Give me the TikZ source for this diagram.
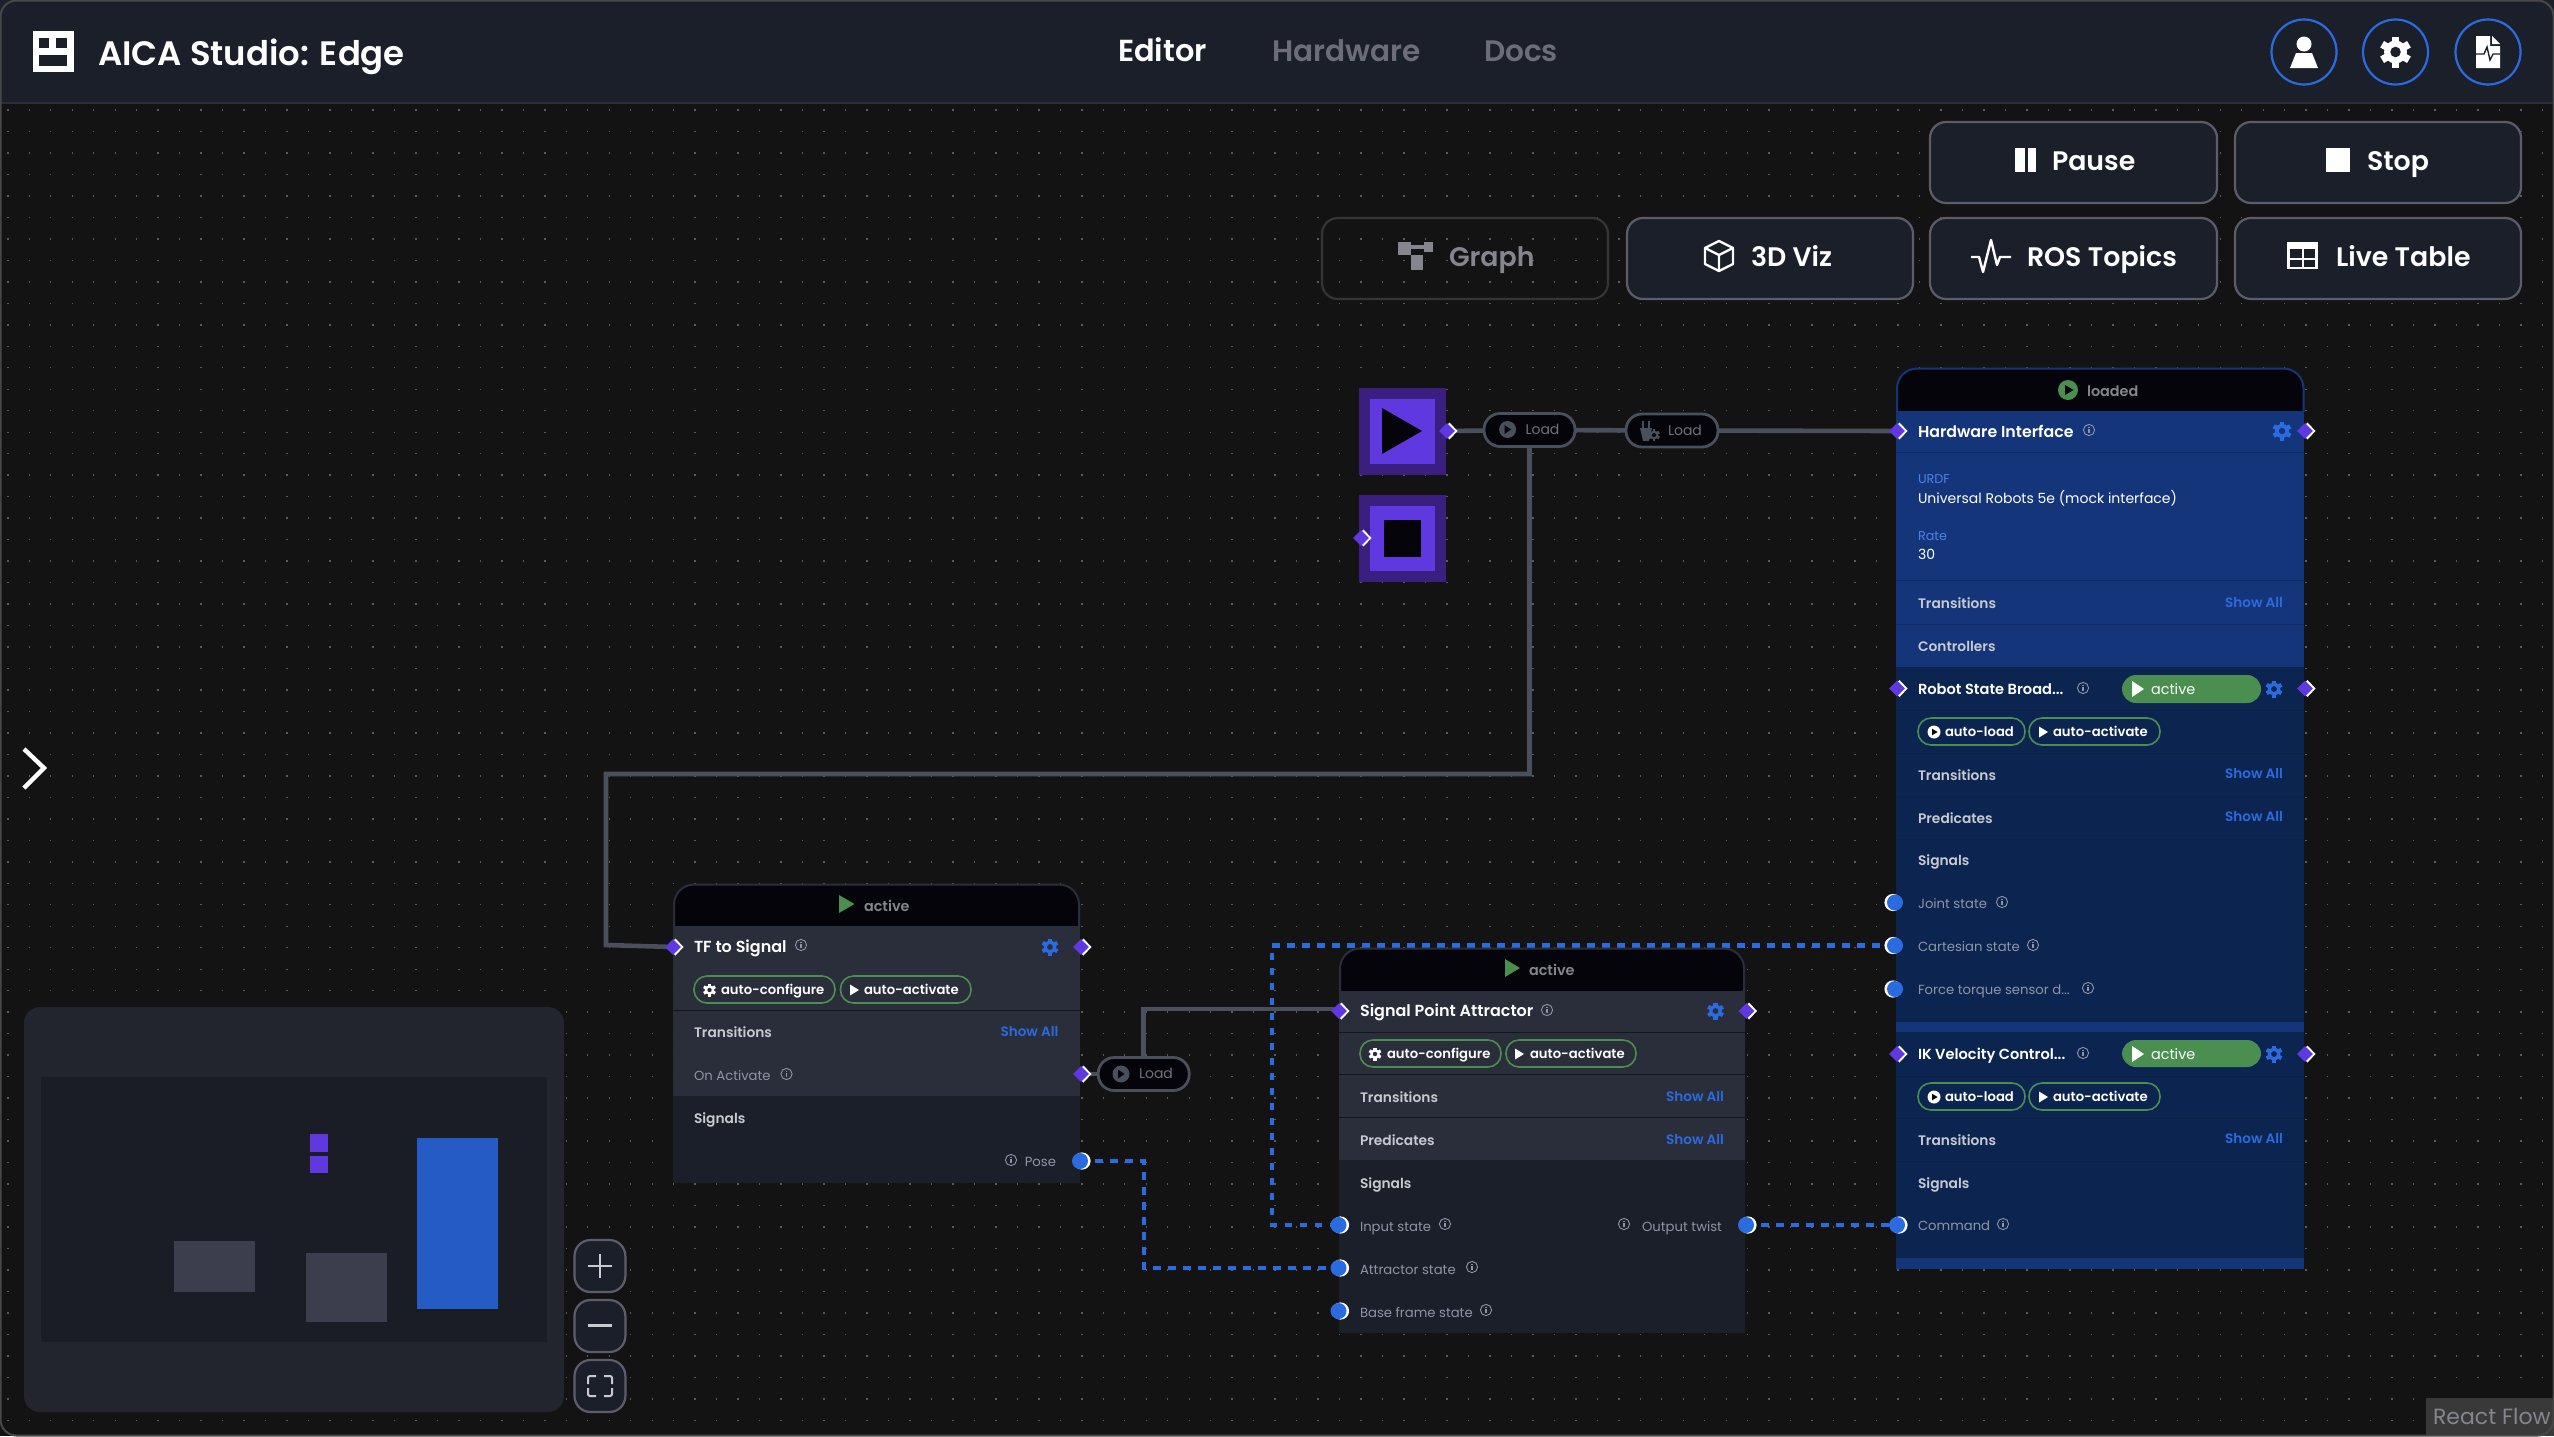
\documentclass[tikz,border=0pt]{standalone}
\usepackage{fontspec}
\setmainfont{Poppins}[BoldFont={Poppins SemiBold}]
\usetikzlibrary{shapes.geometric}
\pgfdeclarelayer{dots}
\pgfdeclarelayer{conn}
\pgfsetlayers{dots,conn,main}
\definecolor{bg}{HTML}{131313}
\definecolor{bar}{HTML}{1B1F2A}
\definecolor{frameg}{HTML}{474747}
\definecolor{dotc}{HTML}{5A5A5A}
\definecolor{btnline}{HTML}{5C5C6A}
\definecolor{linkb}{HTML}{2B6BE0}
\definecolor{wire}{HTML}{4A4F5C}
\definecolor{purp}{HTML}{6038E0}
\definecolor{purpd}{HTML}{3A1F80}
\definecolor{hwl}{HTML}{15357A}
\definecolor{hwd}{HTML}{0B2550}
\definecolor{greyl}{HTML}{2A2D3A}
\definecolor{greyd}{HTML}{1B1F2A}
\definecolor{grn}{HTML}{4A8F50}
\definecolor{blk}{HTML}{04040A}
\definecolor{sect}{HTML}{C8CAD0}
\definecolor{mut}{HTML}{8F95A5}
\definecolor{hdrtxt}{HTML}{85858E}
\definecolor{mapouter}{HTML}{22252E}
\definecolor{mapinner}{HTML}{1A1D26}
\definecolor{mapgrey}{HTML}{3C3E4D}
\definecolor{mapblue}{HTML}{245BC4}
\newcommand\fs[1]{\fontsize{#1}{#1}\selectfont}
\tikzset{
  txt/.style={inner sep=0pt,outer sep=0pt,anchor=mid west,text=white},
  txtr/.style={txt,anchor=mid east},
  titlef/.style={font=\fs{16.95}\bfseries},
  navf/.style={font=\fs{14.8}\bfseries},
  btnf/.style={font=\fs{13.4}\bfseries},
  namef/.style={yshift=-0.4pt,font=\fs{7.9}\bfseries},
  sectf/.style={txt,yshift=-0.4pt,font=\fs{6.9}\bfseries,text=sect},
  showf/.style={txtr,yshift=-0.4pt,font=\fs{6.8}\bfseries,text=linkb},
  sigf/.style={txt,yshift=-0.4pt,font=\fs{6.6},text=mut},
  sigfr/.style={sigf,anchor=mid east},
  chipf/.style={txt,yshift=-0.4pt,font=\fs{6.6}\bfseries},
  hdrf/.style={txt,yshift=-0.4pt,font=\fs{7.2}\bfseries,text=hdrtxt},
  loadf/.style={txt,font=\fs{7},text=hdrtxt!85!black},
  btnbox/.style={draw=btnline,line width=1.1pt,fill=bar,rounded corners=8pt},
  ctlbox/.style={draw=btnline,line width=1.1pt,fill=bar,rounded corners=8pt},
  loadpill/.style={rectangle,draw=wire,line width=1.4pt,fill=blk,rounded corners=8pt,minimum height=16.5pt,inner sep=0pt},
  chipbox/.style={draw=grn,line width=0.8pt,rounded corners=6.5pt},
  hdiamond/.style={diamond,fill=purp,inner sep=0pt,minimum size=8pt},
  hcircle/.style={circle,fill=linkb,inner sep=0pt,minimum size=8pt},
  wireline/.style={draw=wire,line width=2.3pt},
  dashline/.style={draw=linkb,line width=2.2pt,dash pattern=on 3.9pt off 3.6pt},
  circbtn/.style={draw=linkb,line width=1.1pt,circle,inner sep=0pt,minimum size=32.5pt},
  dotline/.style={draw=dotc,line width=0.7pt,dash pattern=on 0.7pt off 10.04pt},
  iconl/.style={draw=white,line width=1.2pt},
}
% x y radius colour hole
\newcommand\gearico[5]{%
  \fill[#4] (#1,#2) circle[radius={#3*0.74}];
  \foreach \aa in {0,60,120}{\fill[#4,shift={(#1,#2)},rotate=\aa] ({-#3*0.24},{-#3}) rectangle ({#3*0.24},{#3});}
  \fill[#5] (#1,#2) circle[radius={#3*0.34}];
}
% x y colour
\newcommand\infoico[3]{%
  \draw[#3,line width=0.45pt] (#1,#2) circle[radius=5.6];
  \fill[#3] ({#1-0.8},{#2-1}) rectangle ({#1+0.8},{#2+3.4});
  \fill[#3] ({#1-0.8},{#2-3.4}) rectangle ({#1+0.8},{#2-2});
}
% name x y
\newcommand\hdia[3]{%
  \fill[white] ({#2+10.5},#3) -- ({#2+2.5},{#3-8.5}) -- ({#2-6},#3) -- ({#2+2.5},{#3+8.5}) -- cycle;
  \node[hdiamond] (#1) at (#2,#3) {};
}
% name x y shift
\newcommand\hcir[4]{%
  \fill[white] ({#2+#4},#3) circle[radius=8.6];
  \node[hcircle] (#1) at (#2,#3) {};
}
% x y colour radius : play in a disc
\newcommand\playdisc[4]{%
  \fill[#3] (#1,#2) circle[radius=#4];
  \fill[blk] ({#1-#4*0.3},{#2-#4*0.5}) -- ({#1+#4*0.55},#2) -- ({#1-#4*0.3},{#2+#4*0.5}) -- cycle;
}
% x y halfh width colour
\newcommand\tri[5]{\fill[#5] (#1,{#2-#3}) -- ({#1+#4},#2) -- (#1,{#2+#3}) -- cycle;}
\begin{document}
\begin{tikzpicture}[x=0.5pt,y=-0.5pt]
\useasboundingbox (0,0) rectangle (2554,1436);
% dotted background
\begin{pgfonlayer}{dots}
\fill[bg] (0,0) rectangle (2554,1436);
\foreach \r in {0,...,61}{\draw[dotline] (7.1,{110+21.48*\r}) -- (2554,{110+21.48*\r});}
\end{pgfonlayer}
% top bar
\fill[bar] (0,0) rectangle (2554,102);
\fill[greyl] (0,102) rectangle (2554,104);
% logo
\fill[white] (33,31) rectangle (73.5,72);
\fill[bar] (39,38) rectangle (49,48);
\fill[bar] (55.5,38) rectangle (67,48);
\fill[bar] (39,55) rectangle (67,66);
\node[txt,titlef] (title) at (98,60.5) {AICA Studio: Edge};
\node[txt,navf,font=\fs{15.2}\bfseries] (navEditor) at (1118,56) {Editor};
\node[txt,navf,text=hdrtxt!120!white] (navHardware) at (1272,56) {Hardware};
\node[txt,navf,text=hdrtxt!120!white] (navDocs) at (1484,56) {Docs};
% round buttons
\node[circbtn] (cUser) at (2304,52) {};
\node[circbtn] (cGear) at (2395.5,52) {};
\node[circbtn] (cDoc) at (2488,52) {};
\fill[white] (2304,44) circle[radius=7.5];
\fill[white] (2296,53) -- (2312,53) -- (2318,68) -- (2290,68) -- cycle;
\gearico{2395.5}{52}{15.5}{white}{bar}
\fill[white] (2476,36) -- (2490,36) -- (2490,46) -- (2500,46) -- (2500,68) -- (2476,68) -- cycle;
\fill[white] (2492,36) -- (2500,44) -- (2492,44) -- cycle;
\draw[bar,line width=0.7pt] (2476,54) -- (2484,54) -- (2487,47) -- (2490,60) -- (2493,54) -- (2500,54);
% buttons
\draw[btnbox] (1930,122) rectangle (2217,203);
\draw[btnbox] (2235,122) rectangle (2521,203);
\draw[btnbox,draw=frameg!75!black,fill=none] (1322,218) rectangle (1608,299);
\draw[btnbox] (1627,218) rectangle (1913,299);
\draw[btnbox] (1930,218) rectangle (2217,299);
\draw[btnbox] (2235,218) rectangle (2521,299);
\fill[white] (2015,148) rectangle (2025,172);
\fill[white] (2028,148) rectangle (2036,172);
\node[txt,btnf] (bPause) at (2052,165) {Pause};
\fill[white] (2326,148) rectangle (2350,172);
\node[txt,btnf] (bStop) at (2367,165) {Stop};
\fill[hdrtxt] (1398,242) rectangle (1411,255);
\fill[hdrtxt] (1411,245) rectangle (1433,249);
\fill[hdrtxt] (1424,242) rectangle (1433,252);
\fill[hdrtxt] (1411,255) rectangle (1423,270);
\node[txt,btnf,text=hdrtxt] (bGraph) at (1449,261) {Graph};
\draw[iconl,line join=round] (1719,241) -- (1733,248) -- (1733,264) -- (1719,271) -- (1705,264) -- (1705,248) -- cycle;
\draw[iconl,line join=round] (1705,248) -- (1719,255) -- (1733,248) (1719,255) -- (1719,271);
\node[txt,btnf] (bViz) at (1751,261) {3D Viz};
\draw[iconl,line join=round] (1971,257) -- (1979,257) -- (1983,272) -- (1991,240) -- (1997,265) -- (2000,257) -- (2011,257);
\node[txt,btnf] (bRos) at (2027,261) {ROS Topics};
\fill[white] (2287,242) rectangle (2318,269);
\fill[bar] (2290,249) rectangle (2301.5,257.5);
\fill[bar] (2303.5,249) rectangle (2315,257.5);
\fill[bar] (2290,259.5) rectangle (2301.5,266.5);
\fill[bar] (2303.5,259.5) rectangle (2315,266.5);
\node[txt,btnf] (bLive) at (2336,261) {Live Table};
% chevron
\draw[white,line width=2.2pt,line join=miter] (24,749) -- (44,768) -- (24,788);
% play and stop blocks
\fill[purpd] (1359,388) rectangle (1446,475);
\fill[purp] (1370,399) rectangle (1435,464);
\fill[blk] (1382,408) -- (1422,431) -- (1382,454) -- cycle;
\fill[purpd] (1359,495) rectangle (1446,582);
\fill[purp] (1370,506) rectangle (1435,571);
\fill[blk] (1384,520) rectangle (1421,557);
\hdia{hPlay}{1447}{431}
\hdia{hStop}{1361}{538}
% load pills
\node[loadpill,minimum width=45.5pt] (pillA) at (1529.5,430) {};
\fill[wire] (1507.6,429.5) circle[radius=8.5];
\tri{1504.5}{429.5}{4.5}{6.5}{blk}
\node[loadf] (tA) at (1525.5,429.5) {Load};
\node[loadpill,minimum width=46pt] (pillB) at (1672,430.5) {};
\fill[wire] (1642,421) rectangle (1644,428);
\fill[wire] (1648,421) rectangle (1650,428);
\fill[wire] (1640,428) -- (1652,428) -- (1649,441) -- (1643,441) -- cycle;
\gearico{1654}{435}{6}{wire}{blk}
\node[loadf] (tB) at (1668,430.5) {Load};
\node[loadpill,minimum width=45.5pt] (pillC) at (1143.7,1074) {};
\fill[wire] (1121,1074) circle[radius=8.5];
\tri{1118}{1074}{4.5}{6.5}{blk}
\node[loadf] (tC) at (1139,1073.5) {Load};
% ---------- hardware interface ----------
\draw[draw=hwl,fill=blk,line width=1pt,rounded corners=10pt] (1897,412) -- (1897,368.5) -- (2303.5,368.5) -- (2303.5,412);
\fill[hwl] (1896,411) rectangle (2304,1269);
\fill[hwd] (1896,667) rectangle (2304,1022);
\fill[hwd] (1896,1032) rectangle (2304,1258);
\foreach \yy in {452,580,624}{\fill[hwd!75!hwl] (1896,\yy) rectangle (2304,{\yy+1.4});}
\foreach \yy in {710,753,797,839,1076,1118,1161}{\fill[hwd!88!black] (1896,\yy) rectangle (2304,{\yy+1});}
\playdisc{2068}{390}{grn}{10}
\node[hdrf] (hwState) at (2087,390) {loaded};
\node[txt,namef] (hwName) at (1918,431) {Hardware Interface};
\infoico{2089}{430}{mut}
\gearico{2282}{431}{9.5}{linkb}{hwl}
\node[txt,yshift=-0.4pt,font=\fs{6.4},text=linkb!85!white] (hwUrdf) at (1918,477) {URDF};
\node[txt,yshift=-0.4pt,font=\fs{7}] (hwUrdfV) at (1918,497) {Universal Robots 5e (mock interface)};
\node[txt,yshift=-0.4pt,font=\fs{6.4},text=linkb!85!white] (hwRate) at (1918,534) {Rate};
\node[txt,yshift=-0.4pt,font=\fs{7}] (hwRateV) at (1918,553) {30};
\node[sectf] (hwTrans) at (1918,602) {Transitions};
\node[showf] (hwShow) at (2283,601) {Show All};
\node[sectf] (hwCtrl) at (1918,645) {Controllers};
% robot state
\node[txt,namef,font=\fs{7.3}\bfseries] (rsName) at (1918,688) {Robot State Broad...};
\infoico{2083}{688}{mut}
\draw[fill=grn,draw=none,rounded corners=7pt] (2122,675) rectangle (2261,703);
\tri{2132}{689}{8}{12}{white}
\node[txt,yshift=-0.4pt,font=\fs{7.2}] (rsAct) at (2151,688) {active};
\gearico{2274}{689}{8.5}{linkb}{hwd}
\draw[chipbox] (1918,718) rectangle (2025,745);
\playdisc{1934}{732}{white}{6.5}
\node[chipf] (rsC1) at (1945,730.5) {auto-load};
\draw[chipbox] (2029,718) rectangle (2160,745);
\tri{2039}{732}{5.5}{9}{white}
\node[chipf] (rsC2) at (2053,730.5) {auto-activate};
\node[sectf] (rsTrans) at (1918,774) {Transitions};
\node[showf] (rsShow1) at (2283,772) {Show All};
\node[sectf] (rsPred) at (1918,817) {Predicates};
\node[showf] (rsShow2) at (2283,815) {Show All};
\node[sectf] (rsSig) at (1918,859) {Signals};
\node[sigf] (rsJ) at (1918,902) {Joint state};
\infoico{2002}{902}{mut}
\node[sigf] (rsCart) at (1918,945) {Cartesian state};
\infoico{2033}{945}{mut}
\node[sigf] (rsF) at (1918,988) {Force torque sensor d...};
\infoico{2088}{988}{mut}
% ik
\node[txt,namef,font=\fs{7.3}\bfseries] (ikName) at (1918,1053) {IK Velocity Control...};
\infoico{2083}{1053}{mut}
\draw[fill=grn,draw=none,rounded corners=7pt] (2122,1040) rectangle (2261,1067);
\tri{2132}{1054}{8}{12}{white}
\node[txt,yshift=-0.4pt,font=\fs{7.2}] (ikAct) at (2151,1053) {active};
\gearico{2274}{1054}{8.5}{linkb}{hwd}
\draw[chipbox] (1918,1083) rectangle (2025,1110);
\playdisc{1934}{1097}{white}{6.5}
\node[chipf] (ikC1) at (1945,1095.5) {auto-load};
\draw[chipbox] (2029,1083) rectangle (2160,1110);
\tri{2039}{1097}{5.5}{9}{white}
\node[chipf] (ikC2) at (2053,1095.5) {auto-activate};
\node[sectf] (ikTrans) at (1918,1139) {Transitions};
\node[showf] (ikShow) at (2283,1137) {Show All};
\node[sectf] (ikSig) at (1918,1182) {Signals};
\node[sigf] (ikCmd) at (1918,1224) {Command};
\infoico{2003}{1224}{mut}
\hdia{hHwIn}{1897}{431}
\hdia{hHwOut}{2305}{431}
\hdia{hRsIn}{1897}{688.5}
\hdia{hRsOut}{2305}{688.5}
\hcir{sJoint}{1895}{902.5}{-2}
\hcir{sCart}{1895}{945.5}{-2}
\hcir{sForce}{1895}{989}{-2}
\hdia{hIkIn}{1897}{1054}
\hdia{hIkOut}{2305}{1054}
\hcir{sCmd}{1897}{1225}{2}
% ---------- TF to signal ----------
\draw[draw=greyl,fill=blk,line width=1pt,rounded corners=10pt] (674,927) -- (674,884.5) -- (1079,884.5) -- (1079,927);
\fill[greyl] (672.5,926) rectangle (1080,1096);
\fill[greyd] (672.5,1096) rectangle (1080,1183);
\fill[greyd!70!black] (672.5,1010) rectangle (1080,1011);
\tri{839}{904}{9}{15.5}{grn}
\node[hdrf] (tfState) at (864,905) {active};
\node[txt,namef,font=\fs{8}\bfseries] (tfName) at (694,946) {TF to Signal};
\infoico{801}{945}{mut}
\gearico{1050}{947}{8.5}{linkb}{greyl}
\draw[chipbox] (694,976) rectangle (835,1003);
\gearico{709.5}{990}{6.5}{white}{greyl}
\node[chipf] (tfC1) at (721,988.5) {auto-configure};
\draw[chipbox] (840.5,976) rectangle (971,1003);
\tri{850}{990}{5.5}{9}{white}
\node[chipf] (tfC2) at (864,988.5) {auto-activate};
\node[sectf] (tfTrans) at (694,1031) {Transitions};
\node[showf] (tfShow) at (1058.5,1030) {Show All};
\node[sigf] (tfOn) at (694,1074) {On Activate};
\infoico{786.5}{1074}{mut}
\node[sectf] (tfSig) at (694,1117) {Signals};
\node[sigfr] (tfPose) at (1056,1160) {Pose};
\infoico{1011}{1160}{mut}
\hdia{hTfIn}{673}{947}
\hdia{hTfOut}{1081}{947}
\hdia{hTfAct}{1081}{1074}
\hcir{sPose}{1080}{1161}{2}
% ---------- signal point attractor ----------
\draw[draw=greyl,fill=blk,line width=1pt,rounded corners=10pt] (1340,992) -- (1340,948.5) -- (1744,948.5) -- (1744,992);
\fill[greyl] (1338.5,991) rectangle (1745,1160);
\fill[greyd] (1338.5,1160) rectangle (1745,1333);
\foreach \yy in {1032,1074,1117}{\fill[greyd!70!black] (1338.5,\yy) rectangle (1745,{\yy+1});}
\tri{1505}{968}{9}{15}{grn}
\node[hdrf] (spaState) at (1529,969) {active};
\node[txt,namef,font=\fs{8}\bfseries] (spaName) at (1360,1010) {Signal Point Attractor};
\infoico{1547}{1010}{mut}
\gearico{1715.5}{1011}{8.5}{linkb}{greyl}
\draw[chipbox] (1360,1040) rectangle (1501,1067);
\gearico{1375}{1054}{6.5}{white}{greyl}
\node[chipf] (spaC1) at (1387,1052.5) {auto-configure};
\draw[chipbox] (1506,1040) rectangle (1636,1067);
\tri{1515}{1054}{5.5}{9}{white}
\node[chipf] (spaC2) at (1530,1052.5) {auto-activate};
\node[sectf] (spaTrans) at (1360,1096) {Transitions};
\node[showf] (spaShow1) at (1724,1095) {Show All};
\node[sectf] (spaPred) at (1360,1139) {Predicates};
\node[showf] (spaShow2) at (1724,1138) {Show All};
\node[sectf] (spaSig) at (1360,1182) {Signals};
\node[sigf] (spaIn) at (1360,1225) {Input state};
\infoico{1445}{1224}{mut}
\node[sigfr] (spaOut) at (1722,1225) {Output twist};
\infoico{1624}{1224}{mut}
\node[sigf] (spaAt) at (1360,1268) {Attractor state};
\infoico{1472}{1267}{mut}
\node[sigf] (spaBase) at (1360,1311) {Base frame state};
\infoico{1486}{1310}{mut}
\hdia{hSpaIn}{1339}{1011}
\hdia{hSpaOut}{1746.5}{1011}
\hcir{sIn}{1338.5}{1225}{2}
\hcir{sAt}{1338.5}{1268}{2}
\hcir{sBase}{1338.5}{1311}{2}
\hcir{sOut}{1746}{1225}{2}
% minimap
\fill[mapouter,rounded corners=8pt] (24,1007) rectangle (564,1412);
\fill[mapinner] (41,1077) rectangle (547,1342);
\fill[purp] (310,1134) rectangle (328,1152);
\fill[purp] (310,1156) rectangle (328,1173);
\fill[mapblue] (417,1138) rectangle (498,1309);
\fill[mapgrey] (174,1241) rectangle (255,1292);
\fill[mapgrey] (306,1253) rectangle (387,1322);
% zoom controls
\draw[ctlbox] (574.5,1240) rectangle (625.4,1292);
\draw[ctlbox] (574.5,1300) rectangle (625.4,1352);
\draw[ctlbox] (574.5,1360) rectangle (625.4,1412);
\draw[sect,line width=1.2pt] (588,1266) -- (612,1266) (600,1254) -- (600,1278);
\draw[sect,line width=1.6pt] (588,1325.5) -- (612,1325.5);
\draw[sect,line width=1pt,rounded corners=1pt] (588,1384) -- (588,1376) -- (596,1376) (604,1376) -- (612,1376) -- (612,1384) (612,1388) -- (612,1396) -- (604,1396) (596,1396) -- (588,1396) -- (588,1388);
% attribution
\fill[frameg!80!black] (2426,1398) rectangle (2554,1436);
\node[txt,font=\fs{11},text=hdrtxt] (rf) at (2433,1419) {React Flow};
% frame
\draw[frameg,line width=1pt,rounded corners=8pt] (0.5,0.5) rectangle (2553.5,1435.5);
% connectors
\coordinate (b1) at (pillA.south |- 0,774);
\coordinate (b2) at (606,774);
\coordinate (b3) at (606,945);
\coordinate (b4) at (1143.7,1009);
\coordinate (d1) at (1143.7,1161);
\coordinate (d2) at (1143.7,1268);
\coordinate (d3) at (1272,945);
\coordinate (d4) at (1272,1225);
\begin{pgfonlayer}{conn}
\draw[wireline] (hPlay.center) -- (pillA.center) -- (pillB.center) -- (hHwIn.center);
\draw[wireline] (pillA.south) -- (b1) -- (b2) -- (b3) -- (hTfIn.center);
\draw[wireline] (hTfAct.center) -- (pillC.center);
\draw[wireline] (pillC.north -| b4) -- (b4) -- (b4 -| hSpaIn) -- (hSpaIn.center);
\draw[dashline] (sPose.center) -- (d1) -- (d2) -- (sAt.center);
\draw[dashline] (sCart.center) -- (sCart.center -| d3) -- (d4) -- (sIn.center);
\draw[dashline] (sOut.center) -- (sCmd.center);
\end{pgfonlayer}
\end{tikzpicture}
\end{document}
